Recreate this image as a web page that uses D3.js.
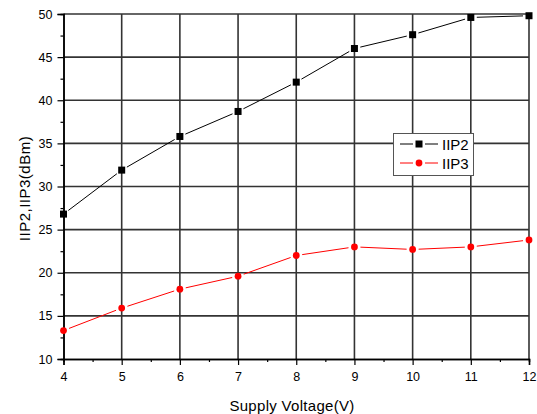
<!DOCTYPE html>
<html><head><meta charset="utf-8">
<script src="https://cdn.jsdelivr.net/npm/d3@7"></script>
<style>body{margin:0;background:#fff;}svg{display:block;font-family:Arial,"Liberation Sans",sans-serif;}</style>
</head><body>
<svg id="c" width="537" height="414"></svg>
<script>
const voltages = [4, 5, 6, 7, 8, 9, 10, 11, 12];
const iip2 = [26.8, 31.9, 35.8, 38.7, 42.1, 46.0, 47.6, 49.6, 49.8];
const iip3 = [13.3, 15.9, 18.1, 19.6, 22.0, 23.0, 22.7, 23.0, 23.8];
const xTicks = [4, 5, 6, 7, 8, 9, 10, 11, 12];
const yTicks = [10, 15, 20, 25, 30, 35, 40, 45, 50];
const seriesNames = ["IIP2", "IIP3"];

const svg = d3.select("#c");
const L = 63.5, R = 529, T = 14, B = 359;
const x = d3.scaleLinear().domain([4, 12]).range([L, R]);
const y = d3.scaleLinear().domain([10, 50]).range([B, T]);

// grid
const g = svg.append("g");
g.selectAll(".vg").data(xTicks.slice(1)).enter().append("line")
  .attr("x1", d => x(d)).attr("x2", d => x(d)).attr("y1", T).attr("y2", B)
  .attr("stroke", "#333").attr("stroke-width", 1.6);
g.selectAll(".hg").data(yTicks.slice(1)).enter().append("line")
  .attr("x1", L).attr("x2", R).attr("y1", d => y(d)).attr("y2", d => y(d))
  .attr("stroke", "#333").attr("stroke-width", 1.6);

// axes
const xAxis = d3.axisBottom(x).tickValues(xTicks).tickSize(6).tickFormat(d3.format("d"));
const xMinor = d3.axisBottom(x).tickValues(d3.range(4.5, 12, 1)).tickSize(3).tickFormat("");
const yAxis = d3.axisLeft(y).tickValues(yTicks).tickSize(6).tickFormat(d3.format("d"));
const yMinor = d3.axisLeft(y).tickValues(d3.range(12.5, 50, 5)).tickSize(3).tickFormat("");

function styleAxis(sel) {
  sel.select(".domain").attr("stroke", "#000").attr("stroke-width", 1.5);
  sel.selectAll(".tick line").attr("stroke", "#000").attr("stroke-width", 1.2);
  sel.selectAll("text").attr("fill", "#000").attr("font-size", 12.5);
}
svg.append("g").attr("transform", `translate(0,${B})`).call(xAxis).call(styleAxis)
  .selectAll("text").attr("dy", "1.0em");
svg.append("g").attr("transform", `translate(0,${B})`).call(xMinor).call(styleAxis);
svg.append("g").attr("transform", `translate(${L},0)`).call(yAxis).call(styleAxis)
  .selectAll("text").attr("x", -11);
svg.append("g").attr("transform", `translate(${L},0)`).call(yMinor).call(styleAxis);

// axis labels
svg.append("text").attr("x", 292).attr("y", 411).attr("text-anchor", "middle")
  .attr("font-size", 15).attr("letter-spacing", 0.3).attr("fill", "#000").text("Supply Voltage(V)");
svg.append("text").attr("transform", `translate(30,${(T + B) / 2 + 2}) rotate(-90)`)
  .attr("text-anchor", "middle").attr("font-size", 15).attr("letter-spacing", 0.5).attr("fill", "#000").text("IIP2,IIP3(dBm)");

// series with gaps near markers
function drawSeries(vals, color, gap) {
  const pts = vals.map((v, i) => [x(voltages[i]), y(v)]);
  const segs = [];
  for (let i = 0; i < pts.length - 1; i++) {
    const [x1, y1] = pts[i], [x2, y2] = pts[i + 1];
    const len = Math.hypot(x2 - x1, y2 - y1);
    const ux = (x2 - x1) / len, uy = (y2 - y1) / len;
    segs.push([x1 + ux * gap, y1 + uy * gap, x2 - ux * gap, y2 - uy * gap]);
  }
  svg.append("g").selectAll("line").data(segs).enter().append("line")
    .attr("x1", d => d[0]).attr("y1", d => d[1]).attr("x2", d => d[2]).attr("y2", d => d[3])
    .attr("stroke", color).attr("stroke-width", 1);
  return pts;
}
const p2 = drawSeries(iip2, "#000", 6);
svg.append("g").selectAll("rect").data(p2).enter().append("rect")
  .attr("x", d => d[0] - 3.5).attr("y", d => d[1] - 3.5).attr("width", 7).attr("height", 7).attr("fill", "#000");
const p3 = drawSeries(iip3, "#ff0000", 6);
svg.append("g").selectAll("path").data(p3).enter().append("path")
  .attr("d", d3.symbol().type(d3.symbolCircle).size(36))
  .attr("transform", d => `translate(${d[0]},${d[1]})`).attr("fill", "#ff0000");

// legend
const lg = svg.append("g");
lg.append("rect").attr("x", 393.5).attr("y", 133.5).attr("width", 80).attr("height", 42)
  .attr("fill", "#fff").attr("stroke", "#555").attr("stroke-width", 1);
const rows = [{name: seriesNames[0], color: "#000", y: 144}, {name: seriesNames[1], color: "#ff0000", y: 163}];
rows.forEach((r, i) => {
  lg.append("line").attr("x1", 400).attr("x2", 413).attr("y1", r.y).attr("y2", r.y).attr("stroke", r.color);
  lg.append("line").attr("x1", 425).attr("x2", 438).attr("y1", r.y).attr("y2", r.y).attr("stroke", r.color);
  if (i === 0) lg.append("rect").attr("x", 415.5).attr("y", r.y - 3.5).attr("width", 7).attr("height", 7).attr("fill", "#000");
  else lg.append("path").attr("d", d3.symbol().type(d3.symbolCircle).size(36)).attr("transform", `translate(419,${r.y})`).attr("fill", "#ff0000");
  lg.append("text").attr("x", 442).attr("y", r.y + 5.5).attr("font-size", 15).attr("fill", "#000").text(r.name);
});
</script>
</body></html>
